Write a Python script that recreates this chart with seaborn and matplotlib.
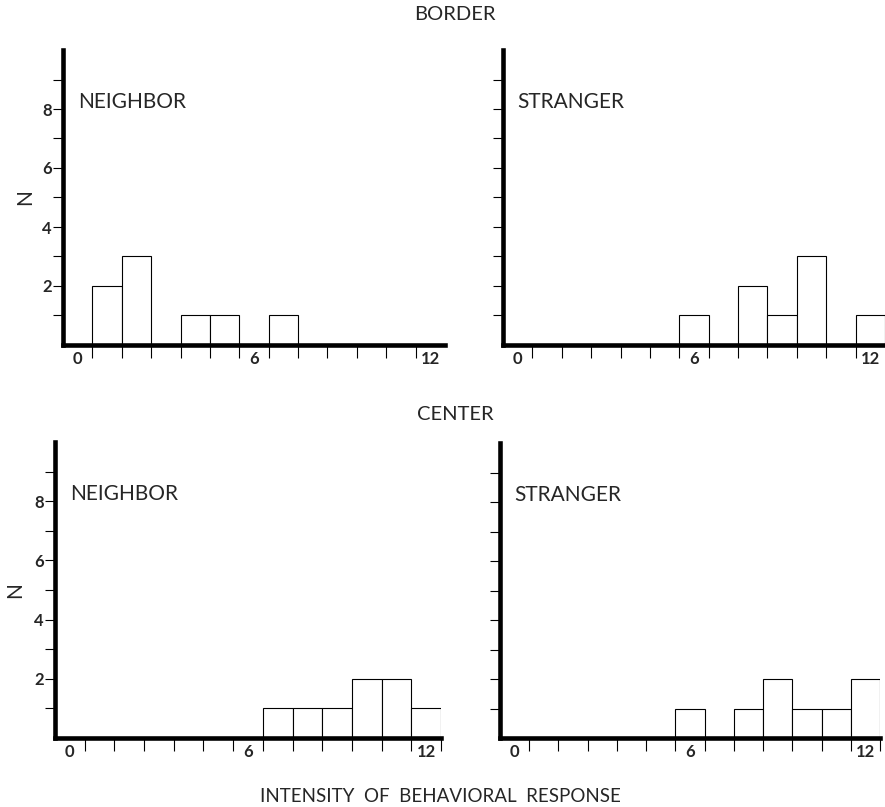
import pandas as pd
import seaborn as sns
import matplotlib.pyplot as plt

# intensity values (0-12) and number of birds responding at that intensity
border_neighbor_x = [1, 2, 4, 5, 7]
border_neighbor_n = [2, 3, 1, 1, 1]
border_stranger_x = [6, 8, 9, 10, 12]
border_stranger_n = [1, 2, 1, 3, 1]
center_neighbor_x = [7, 8, 9, 10, 11, 12]
center_neighbor_n = [1, 1, 1, 2, 2, 1]
center_stranger_x = [6, 8, 9, 10, 11, 12]
center_stranger_n = [1, 1, 2, 1, 1, 2]

x_tick_labels = ["0", "6", "12"]
x_label_values = [0, 6, 12]
y_tick_values = [1, 2, 3, 4, 5, 6, 7, 8, 9]
y_tick_labels = ["", "2", "", "4", "", "6", "", "8", ""]

sns.set_style("white")
plt.rcParams["font.family"] = ["Lato", "DejaVu Sans"]

fig = plt.figure(figsize=(8.85, 8.07), dpi=100)
W, H = 885, 807


def rect(x0, y_top, x_end, y_axis):
    return [x0 / W, 1 - y_axis / H, (x_end - x0) / W, (y_axis - y_top) / H]


panels = [
    (rect(63, 50, 445, 345), border_neighbor_x, border_neighbor_n, "NEIGHBOR", True, 12, 25),
    (rect(503, 50, 885, 345), border_stranger_x, border_stranger_n, "STRANGER", False, 12, None),
    (rect(55, 442, 441, 738), center_neighbor_x, center_neighbor_n, "NEIGHBOR", True, 13, 15),
    (rect(500, 443, 880, 738), center_stranger_x, center_stranger_n, "STRANGER", False, 13, None),
]

for r, xs, ns, label, left, last_tick, nx in panels:
    ax = fig.add_axes(r)
    df = pd.DataFrame({"intensity": xs, "n": ns})
    # one bin per intensity value, bin [v, v+1]
    sns.histplot(data=df, x="intensity", weights="n", bins=list(range(0, 14)), ax=ax,
                 color="white", edgecolor="black", linewidth=0.8, alpha=1)
    ax.set_xlim(0, 13)
    ax.set_ylim(0, 10)
    ax.set_xlabel("")
    ax.set_ylabel("")

    for s in ["top", "right"]:
        ax.spines[s].set_visible(False)
    for s in ["left", "bottom"]:
        ax.spines[s].set_linewidth(3.3)
        ax.spines[s].set_color("black")
        ax.spines[s].set_capstyle("projecting")

    ax.set_xticks(range(1, last_tick + 1))
    ax.set_xticklabels([])
    ax.set_xticks([v + 0.5 for v in x_label_values], minor=True)
    ax.set_xticklabels(x_tick_labels, minor=True, fontsize=12, fontweight="bold")
    ax.tick_params(axis="x", which="major", direction="out", length=9, width=0.8,
                   bottom=True, color="black")
    ax.tick_params(axis="x", which="minor", length=0, pad=4, bottom=True)

    ax.set_yticks(y_tick_values)
    if left:
        ax.set_yticklabels(y_tick_labels, fontsize=12, fontweight="bold")
    else:
        ax.set_yticklabels([])
    ax.tick_params(axis="y", direction="out", length=7, width=0.8, left=True,
                   color="black", pad=1)

    ax.text(0.5, 8.25, label, fontsize=15, va="center", ha="left")

    if nx is not None:
        fig.text(nx / W, r[1] + r[3] / 2, "N", rotation=90, fontsize=15,
                 ha="center", va="center")

fig.text(455 / W, 1 - 15 / H, "BORDER", ha="center", va="center", fontsize=14.5)
fig.text(455 / W, 1 - 415 / H, "CENTER", ha="center", va="center", fontsize=14.5)
fig.text(440 / W, 1 - 797 / H, "INTENSITY  OF  BEHAVIORAL  RESPONSE",
         ha="center", va="center", fontsize=13.5)

fig.savefig("out.png", dpi=100)
